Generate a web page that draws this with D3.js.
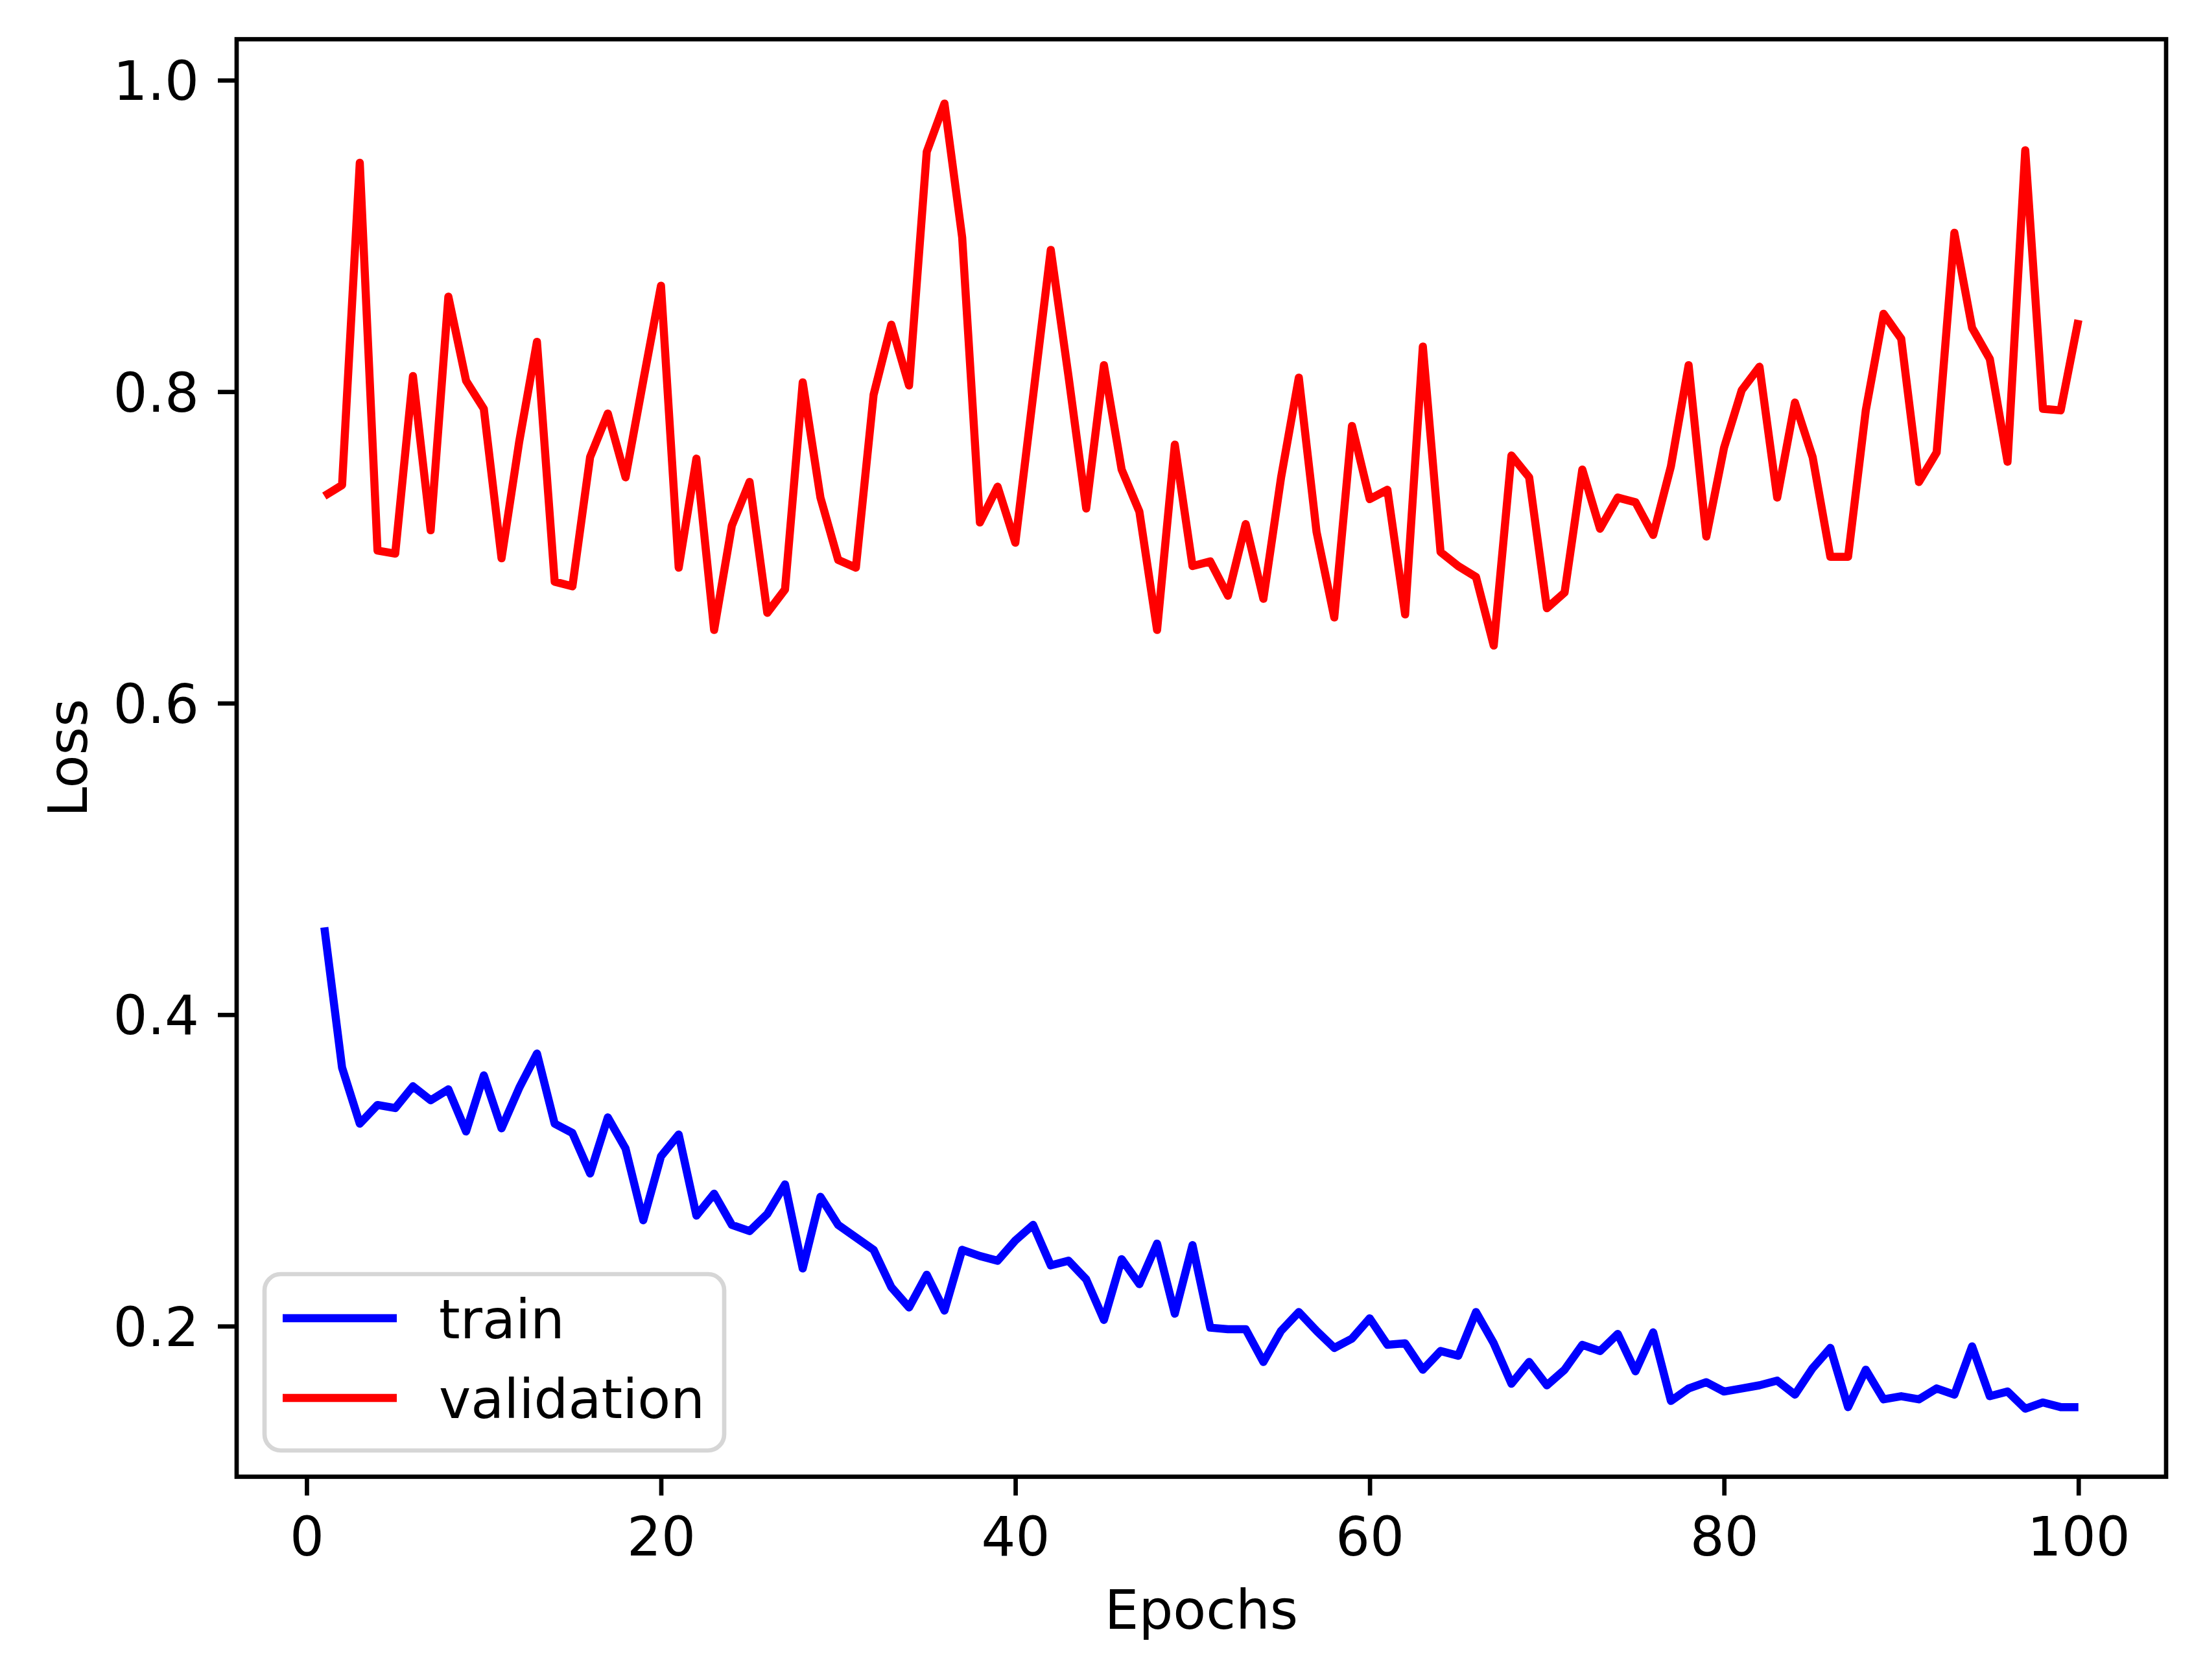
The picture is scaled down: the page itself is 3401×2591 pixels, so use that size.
<!DOCTYPE html>
<html>
<head>
<meta charset="utf-8">
<script src="https://cdn.jsdelivr.net/npm/d3@7"></script>
<style>
    body { margin: 0; background: #fff; }
    svg text { font-family: "DejaVu Sans", sans-serif; fill: #000; }
</style>
</head>
<body>
<div id="chart"></div>
<script>
const epochs = d3.range(1, 101);

const trainLoss = [
    0.456, 0.366, 0.330, 0.342, 0.340, 0.354, 0.345, 0.352, 0.325, 0.361,
    0.327, 0.353, 0.375, 0.330, 0.324, 0.298, 0.334, 0.314, 0.268, 0.309,
    0.323, 0.271, 0.285, 0.265, 0.261, 0.272, 0.291, 0.237, 0.283, 0.265,
    0.257, 0.249, 0.225, 0.212, 0.233, 0.210, 0.249, 0.245, 0.242, 0.255,
    0.265, 0.239, 0.242, 0.230, 0.204, 0.243, 0.227, 0.253, 0.208, 0.252,
    0.199, 0.198, 0.198, 0.177, 0.197, 0.209, 0.197, 0.186, 0.192, 0.205,
    0.188, 0.189, 0.172, 0.184, 0.181, 0.209, 0.189, 0.163, 0.177, 0.162,
    0.172, 0.188, 0.184, 0.195, 0.171, 0.196, 0.152, 0.160, 0.164, 0.158,
    0.160, 0.162, 0.165, 0.156, 0.173, 0.186, 0.148, 0.172, 0.153, 0.155,
    0.153, 0.160, 0.156, 0.187, 0.155, 0.158, 0.147, 0.151, 0.148, 0.148
];

const validationLoss = [
    0.733, 0.740, 0.947, 0.698, 0.696, 0.810, 0.711, 0.861, 0.807, 0.789,
    0.693, 0.768, 0.832, 0.678, 0.675, 0.758, 0.786, 0.745, 0.807, 0.868,
    0.687, 0.757, 0.647, 0.714, 0.742, 0.658, 0.673, 0.806, 0.732, 0.692,
    0.687, 0.798, 0.843, 0.804, 0.954, 0.985, 0.899, 0.716, 0.739, 0.703,
    0.797, 0.891, 0.810, 0.725, 0.817, 0.750, 0.723, 0.647, 0.766, 0.688,
    0.691, 0.669, 0.715, 0.667, 0.745, 0.809, 0.710, 0.655, 0.778, 0.731,
    0.737, 0.657, 0.829, 0.697, 0.688, 0.681, 0.637, 0.759, 0.745, 0.661,
    0.671, 0.750, 0.712, 0.732, 0.729, 0.708, 0.752, 0.817, 0.707, 0.764,
    0.801, 0.816, 0.732, 0.793, 0.758, 0.694, 0.694, 0.788, 0.850, 0.834,
    0.742, 0.761, 0.902, 0.841, 0.821, 0.755, 0.955, 0.789, 0.788, 0.846
];

const seriesNames = ['train', 'validation'];
const seriesColors = ['#0000ff', '#ff0000'];

const xTicks = [0, 20, 40, 60, 80, 100];
const yTicks = [0.2, 0.4, 0.6, 0.8, 1.0];

document.addEventListener('DOMContentLoaded', function() {
    const width = 3401;
    const height = 2591;
    // plot area in pixels (matplotlib style at 600 dpi)
    const left = 365, right = 3341, top = 60.5, bottom = 2277.5;
    const fontSize = 83.3;
    const tickLen = 29;
    const thin = 6.7;
    const lineW = 12.5;

    const svg = d3.select('#chart').append('svg')
        .attr('width', width)
        .attr('height', height);

    const x = d3.scaleLinear()
        .domain([-3.95, 104.95])
        .range([left, right]);

    const y = d3.scaleLinear()
        .domain([0.1033, 1.0263])
        .range([bottom, top]);

    const line = d3.line()
        .x(function(d, i) { return x(epochs[i]); })
        .y(function(d) { return y(d); });

    const series = [trainLoss, validationLoss];

    svg.append('g').selectAll('path')
        .data(series)
        .enter()
        .append('path')
        .attr('d', line)
        .attr('fill', 'none')
        .attr('stroke', function(d, i) { return seriesColors[i]; })
        .attr('stroke-width', lineW)
        .attr('stroke-linejoin', 'round')
        .attr('stroke-linecap', 'butt');

    // axes
    const xAxis = d3.axisBottom(x)
        .tickValues(xTicks)
        .tickSize(tickLen)
        .tickPadding(33)
        .tickFormat(d3.format('d'));

    const yAxis = d3.axisLeft(y)
        .tickValues(yTicks)
        .tickSize(tickLen)
        .tickPadding(29)
        .tickFormat(d3.format('.1f'));

    const gx = svg.append('g')
        .attr('transform', 'translate(0,' + bottom + ')')
        .call(xAxis);
    const gy = svg.append('g')
        .attr('transform', 'translate(' + left + ',0)')
        .call(yAxis);

    [gx, gy].forEach(function(g) {
        g.select('.domain').remove();
        g.selectAll('.tick line')
            .attr('stroke', '#000')
            .attr('stroke-width', thin);
        g.selectAll('.tick text')
            .attr('font-size', fontSize)
            .attr('font-family', '"DejaVu Sans", sans-serif')
            .attr('fill', '#000');
    });
    gy.selectAll('.tick text').attr('dy', '0.36em');

    // frame
    svg.append('rect')
        .attr('x', left)
        .attr('y', top)
        .attr('width', right - left)
        .attr('height', bottom - top)
        .attr('fill', 'none')
        .attr('stroke', '#000')
        .attr('stroke-width', thin)
        .attr('stroke-linecap', 'square');

    // axis labels
    svg.append('text')
        .attr('x', (left + right) / 2)
        .attr('y', 2512)
        .attr('text-anchor', 'middle')
        .attr('font-size', fontSize)
        .text('Epochs');

    svg.append('text')
        .attr('transform', 'translate(134,' + ((top + bottom) / 2) + ') rotate(-90)')
        .attr('text-anchor', 'middle')
        .attr('font-size', fontSize)
        .text('Loss');

    // legend
    const legend = svg.append('g').attr('transform', 'translate(408,1965)');

    legend.append('rect')
        .attr('width', 709)
        .attr('height', 272)
        .attr('rx', 25)
        .attr('ry', 25)
        .attr('fill', '#fff')
        .attr('fill-opacity', 0.8)
        .attr('stroke', '#d6d6d6')
        .attr('stroke-width', thin);

    const items = legend.selectAll('.legends')
        .data(seriesNames)
        .enter()
        .append('g')
        .classed('legends', true)
        .attr('transform', function(d, i) { return 'translate(0,' + (68 + i * 123) + ')'; });

    items.append('line')
        .attr('x1', 28)
        .attr('x2', 204)
        .attr('stroke', function(d, i) { return seriesColors[i]; })
        .attr('stroke-width', lineW);

    items.append('text')
        .attr('x', 269)
        .attr('y', 30.5)
        .attr('font-size', fontSize)
        .text(function(d) { return d; });
});
</script>
</body>
</html>
